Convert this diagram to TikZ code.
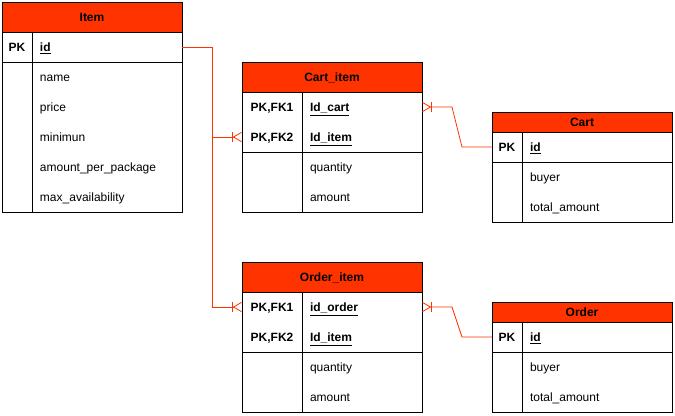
\documentclass[tikz,border=0pt]{standalone}
\usepackage{fontspec}
\setmainfont{Liberation Sans}
\usetikzlibrary{arrows.meta,positioning}
\definecolor{erred}{RGB}{255,51,0}

\begin{document}
\begin{tikzpicture}[x=0.75pt,y=-0.75pt,font=\fontsize{9}{10}\selectfont,
  every node/.style={outer sep=0pt,text height=8.2pt,text depth=1.3pt},
  box/.style={draw,line width=0.7pt},
  head/.style={box,fill=erred,anchor=north west,minimum width=135pt,inner ysep=0pt,font=\fontsize{9}{10}\selectfont\bfseries},
  keyc/.style={anchor=north west,minimum height=22.5pt,inner sep=0pt,font=\fontsize{9}{10}\selectfont\bfseries},
  fld/.style={anchor=north west,minimum height=22.5pt,inner xsep=6pt,inner ysep=0pt,align=left},
  pkf/.style={fld,font=\fontsize{9}{10}\selectfont\bfseries},
  rel/.style={draw=erred,line width=0.6pt},
  many/.style={rel,-{Bar[width=7pt,sep=0pt]Straight Barb[reversed,length=6pt,width=7pt]}}]
  \useasboundingbox (0,0) rectangle (675,415);

  % Item
  \node[head,minimum height=22.5pt] (item) at (2,2) {Item};
  \node[keyc,minimum width=22.5pt] (item-pk) at (item.south west) {PK};
  \node[pkf,text width=100.5pt] (item-id) at (item-pk.north east) {\underline{id}};
  \node[fld,text width=100.5pt] (item-name) at (item-id.south west) {name};
  \node[fld,text width=100.5pt] (item-price) at (item-name.south west) {price};
  \node[fld,text width=100.5pt] (item-min) at (item-price.south west) {minimun};
  \node[fld,text width=100.5pt] (item-app) at (item-min.south west) {amount\_per\_package};
  \node[fld,text width=100.5pt] (item-max) at (item-app.south west) {max\_availability};
  \draw[box] (item-pk.north west) rectangle (item-id.south east);
  \draw[box] (item-pk.south west) rectangle (item-max.south east);
  \draw[box] (item-id.north west) -- (item-max.south west);

  % Cart_item
  \node[head,minimum height=22.5pt] (ci) at (242,62) {Cart\_item};
  \node[keyc,minimum width=45pt] (ci-k1) at (ci.south west) {PK,FK1};
  \node[pkf,text width=78pt] (ci-cart) at (ci-k1.north east) {\underline{Id\_cart}};
  \node[keyc,minimum width=45pt] (ci-k2) at (ci-k1.south west) {PK,FK2};
  \node[pkf,text width=78pt] (ci-item) at (ci-k2.north east) {\underline{Id\_item}};
  \node[fld,text width=78pt] (ci-qty) at (ci-item.south west) {quantity};
  \node[fld,text width=78pt] (ci-amt) at (ci-qty.south west) {amount};
  \draw[box] (ci-k1.north west) rectangle (ci-item.south east);
  \draw[box] (ci-k2.south west) rectangle (ci-amt.south east);
  \draw[box] (ci-cart.north west) -- (ci-amt.south west);

  % Cart
  \node[head,minimum height=15pt] (cart) at (492,112) {Cart};
  \node[keyc,minimum width=22.5pt] (cart-pk) at (cart.south west) {PK};
  \node[pkf,text width=100.5pt] (cart-id) at (cart-pk.north east) {\underline{id}};
  \node[fld,text width=100.5pt] (cart-buyer) at (cart-id.south west) {buyer};
  \node[fld,text width=100.5pt] (cart-total) at (cart-buyer.south west) {total\_amount};
  \draw[box] (cart-pk.north west) rectangle (cart-id.south east);
  \draw[box] (cart-pk.south west) rectangle (cart-total.south east);
  \draw[box] (cart-id.north west) -- (cart-total.south west);

  % Order_item
  \node[head,minimum height=22.5pt] (oi) at (242,262) {Order\_item};
  \node[keyc,minimum width=45pt] (oi-k1) at (oi.south west) {PK,FK1};
  \node[pkf,text width=78pt] (oi-order) at (oi-k1.north east) {\underline{id\_order}};
  \node[keyc,minimum width=45pt] (oi-k2) at (oi-k1.south west) {PK,FK2};
  \node[pkf,text width=78pt] (oi-item) at (oi-k2.north east) {\underline{Id\_item}};
  \node[fld,text width=78pt] (oi-qty) at (oi-item.south west) {quantity};
  \node[fld,text width=78pt] (oi-amt) at (oi-qty.south west) {amount};
  \draw[box] (oi-k1.north west) rectangle (oi-item.south east);
  \draw[box] (oi-k2.south west) rectangle (oi-amt.south east);
  \draw[box] (oi-order.north west) -- (oi-amt.south west);

  % Order
  \node[head,minimum height=15pt] (order) at (492,302) {Order};
  \node[keyc,minimum width=22.5pt] (order-pk) at (order.south west) {PK};
  \node[pkf,text width=100.5pt] (order-id) at (order-pk.north east) {\underline{id}};
  \node[fld,text width=100.5pt] (order-buyer) at (order-id.south west) {buyer};
  \node[fld,text width=100.5pt] (order-total) at (order-buyer.south west) {total\_amount};
  \draw[box] (order-pk.north west) rectangle (order-id.south east);
  \draw[box] (order-pk.south west) rectangle (order-total.south east);
  \draw[box] (order-id.north west) -- (order-total.south west);

  % relations
  \draw[many] (item-id.east) -- ++(30,0) |- (ci-k2.west);
  \draw[many] (item-id.east) -- ++(30,0) |- (oi-k1.west);
  \draw[many] (cart-pk.west) -- ++(-30,0) -- ([xshift=22.5pt]ci-cart.east) -- (ci-cart.east);
  \draw[many] (order-pk.west) -- ++(-30,0) -- ([xshift=22.5pt]oi-order.east) -- (oi-order.east);
\end{tikzpicture}
\end{document}
